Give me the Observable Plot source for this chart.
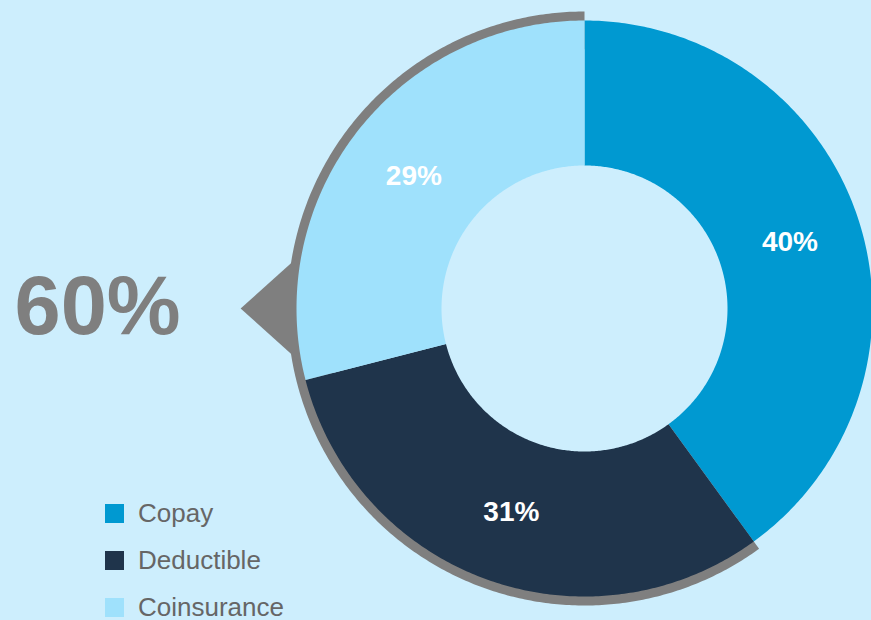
<!DOCTYPE html>
<html>
<head>
<meta charset="utf-8">
<script src="https://cdn.jsdelivr.net/npm/d3@7"></script>
<script src="https://cdn.jsdelivr.net/npm/@observablehq/plot@0.6"></script>
<style>
  html, body { margin: 0; padding: 0; background: #cdeefd; }
  #wrap { position: relative; width: 871px; height: 620px; overflow: hidden; background: #cdeefd; font-family: "Liberation Sans", Arial, sans-serif; }
  #legend { position: absolute; left: 105px; top: 490px; }
  .item { display: flex; align-items: center; height: 47px; }
  .sw { width: 19px; height: 19px; margin-right: 14px; }
  .lbl { font-size: 26px; color: #666666; }
</style>
</head>
<body>
<div id="wrap"></div>
<script>
// ---- data ----
const categories = ["Copay", "Deductible", "Coinsurance"];
const shares = [40, 31, 29];
const colors = ["#0099d1", "#1f344b", "#9fe1fc"];
const highlighted = ["Deductible", "Coinsurance"]; // the 60% callout

// ---- geometry (layout) ----
const W = 871, H = 620;
const cx = 584, cy = 308, R = 288;          // px
const inner = 143 / R;                       // inner radius (unit)
const ringR = 297 / R;                       // grey ring radius (unit)
const pointerAngle = 1.5 * Math.PI;          // callout points left
const total = d3.sum(shares);

// angle: clockwise from top, radians
const P = (r, a) => ({x: r * Math.sin(a), y: r * Math.cos(a)});

let acc = 0;
const slices = categories.map((c, i) => {
  const a0 = acc / total * 2 * Math.PI;
  acc += shares[i];
  const a1 = acc / total * 2 * Math.PI;
  return {cat: c, value: shares[i], a0, a1};
});

function arcPoly(key, r0, r1, a0, a1) {
  const n = Math.max(8, Math.ceil((a1 - a0) / 0.01));
  const pts = [];
  for (let k = 0; k <= n; k++) pts.push({key, ...P(r1, a0 + (a1 - a0) * k / n)});
  for (let k = n; k >= 0; k--) pts.push({key, ...P(r0, a0 + (a1 - a0) * k / n)});
  return pts;
}

const slicePts = slices.flatMap(s => arcPoly(s.cat, inner, 1, s.a0, s.a1));

// grey ring behind highlighted slices
const hs = slices.filter(s => highlighted.includes(s.cat));
const hA0 = d3.min(hs, s => s.a0), hA1 = d3.max(hs, s => s.a1);
const hValue = d3.sum(hs, s => s.value);
const ringPts = arcPoly("ring", 0.9, ringR, hA0, hA1);
// pointer triangle
const spread = 11 * Math.PI / 180;
const triPts = [
  {key: "tri", ...P(1.0, pointerAngle - spread)},
  {key: "tri", ...P(1.194, pointerAngle)},
  {key: "tri", ...P(1.0, pointerAngle + spread)}
];

const labels = slices.map(s => ({...s, ...P(0.75, (s.a0 + s.a1) / 2)}));

const chart = Plot.plot({
  width: W, height: H,
  margin: 0,
  style: {background: "#cdeefd", fontFamily: "'Liberation Sans', Arial, sans-serif"},
  x: {domain: [-cx / R, (W - cx) / R], axis: null},
  y: {domain: [-(H - cy) / R, cy / R], axis: null},
  color: {domain: categories, range: colors},
  marks: [
    Plot.line(ringPts, {x: "x", y: "y", fill: "#7f7f7f", stroke: "none", curve: "linear-closed"}),
    Plot.line(triPts, {x: "x", y: "y", fill: "#7f7f7f", stroke: "none", curve: "linear-closed"}),
    Plot.line(slicePts, {x: "x", y: "y", z: "key", fill: "key", stroke: "none", curve: "linear-closed"}),
    Plot.text(labels, {x: "x", y: "y", text: d => d.value + "%", fill: "white", fontSize: 28, fontWeight: "bold"}),
    Plot.text([hValue], {frameAnchor: "left", dx: 14, dy: -3, textAnchor: "start", text: d => d + "%", fill: "#7f7f7f", fontSize: 83, fontWeight: "bold"})
  ]
});

const wrap = document.getElementById("wrap");
wrap.appendChild(chart);

const legend = document.createElement("div");
legend.id = "legend";
categories.forEach((c, i) => {
  const it = document.createElement("div");
  it.className = "item";
  it.innerHTML = `<div class="sw" style="background:${colors[i]}"></div><div class="lbl">${c}</div>`;
  legend.appendChild(it);
});
wrap.appendChild(legend);
</script>
</body>
</html>
